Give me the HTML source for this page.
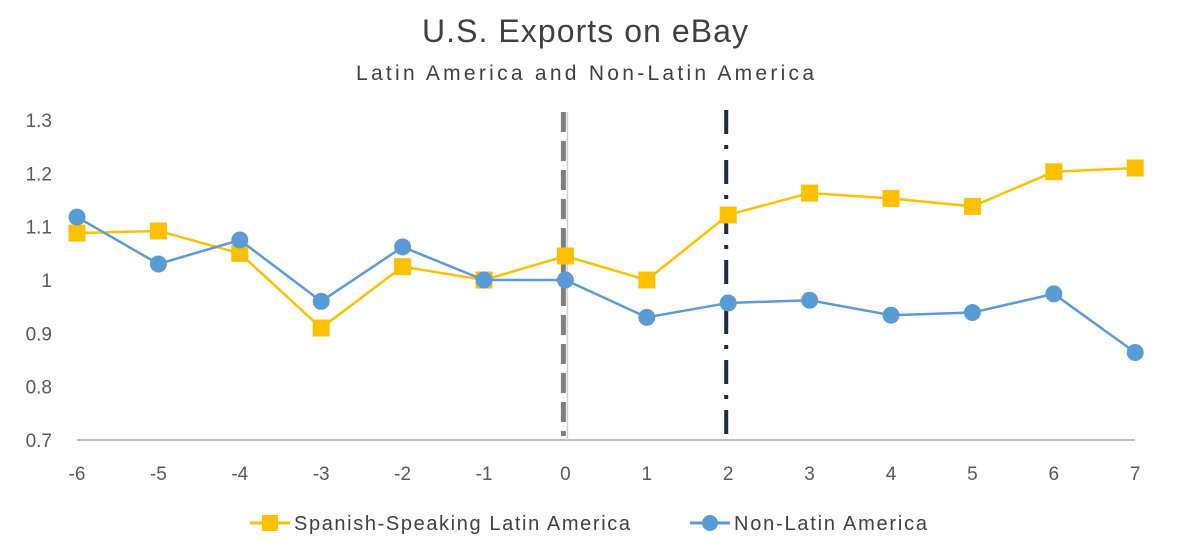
<!DOCTYPE html>
<html><head><meta charset="utf-8"><style>
body{margin:0;background:#fff;}
svg text{font-family:"Liberation Sans",sans-serif;}
</style></head><body>
<svg width="1186" height="552">
<text x="585" y="42" text-anchor="middle" font-size="32" fill="#404040" textLength="326">U.S. Exports on eBay</text>
<text x="585" y="80" text-anchor="middle" font-size="21" fill="#404040" textLength="458">Latin America and Non-Latin America</text>
<g id="axes"></g>
<g id="marks"></g>
<g>
<g>
<line x1="250" y1="523" x2="290" y2="523" stroke="#FFC000" stroke-width="3"/>
<rect x="262" y="515" width="16" height="16" fill="#FFC000"/>
<text x="294" y="530" font-size="20" fill="#404040" textLength="336">Spanish-Speaking Latin America</text>
</g>
<g>
<line x1="690" y1="523" x2="730" y2="523" stroke="#5B9BD5" stroke-width="3"/>
<circle cx="710" cy="523" r="8" fill="#5B9BD5"/>
<text x="734" y="530" font-size="20" fill="#404040" textLength="193">Non-Latin America</text>
</g>
</g>
</svg>
<script>
const categories=[-6,-5,-4,-3,-2,-1,0,1,2,3,4,5,6,7];
const spanishValues=[1.088,1.092,1.05,0.91,1.025,1.0,1.045,1.0,1.122,1.163,1.153,1.138,1.203,1.21];
const nonLatinValues=[1.118,1.03,1.075,0.96,1.062,1.0,1.0,0.93,0.957,0.962,0.934,0.939,0.974,0.864];
const yTicks=[0.7,0.8,0.9,1,1.1,1.2,1.3];
const eventLines=[0,2];
const NS="http://www.w3.org/2000/svg";
function xS(c){return 77+(c+6)*81.4;}
function yS(v){return 440-(v-0.7)*533.3;}
function mk(t,a,p){const e=document.createElementNS(NS,t);for(const k in a)e.setAttribute(k,a[k]);p.appendChild(e);return e;}
const axes=document.getElementById('axes'),marks=document.getElementById('marks');
yTicks.forEach(v=>{const t=mk('text',{x:52,y:yS(v)+7,'text-anchor':'end','font-size':19,fill:'#595959'},axes);t.textContent=String(v);

});
categories.forEach(c=>{const t=mk('text',{x:xS(c),y:480,'text-anchor':'middle','font-size':19,fill:'#595959'},axes);t.textContent=String(c);

});
const ax=mk('line',{x1:77,y1:440,x2:1135,y2:440,stroke:'#bfbfbf','stroke-width':2},axes);


const ya=mk('line',{x1:xS(0)+2,y1:112,x2:xS(0)+2,y2:440,stroke:'#d0d0d0','stroke-width':1.5},axes);


const l0=mk('line',{x1:xS(eventLines[0])-2,y1:112,x2:xS(eventLines[0])-2,y2:436,stroke:'#7f7f7f','stroke-width':5,'stroke-dasharray':'20 9'},axes);


const l2=mk('line',{x1:xS(eventLines[1])-2,y1:110,x2:xS(eventLines[1])-2,y2:438,stroke:'#1f2a44','stroke-width':4,'stroke-dasharray':'24 11 4 11'},axes);


function series(vals,color,shape,name){
const pts=vals.map((v,i)=>xS(categories[i])+','+yS(v)).join(' ');
const pl=mk('polyline',{points:pts,fill:'none',stroke:color,'stroke-width':2.5},marks);


vals.forEach((v,i)=>{let m;
if(shape==='sq')m=mk('rect',{x:xS(categories[i])-8.5,y:yS(v)-8.5,width:17,height:17,fill:color},marks);
else m=mk('circle',{cx:xS(categories[i]),cy:yS(v),r:8.5,fill:color},marks);

});}
series(spanishValues,'#FFC000','sq','spanish');
series(nonLatinValues,'#5B9BD5','ci','nonlatin');
</script>
</body></html>
